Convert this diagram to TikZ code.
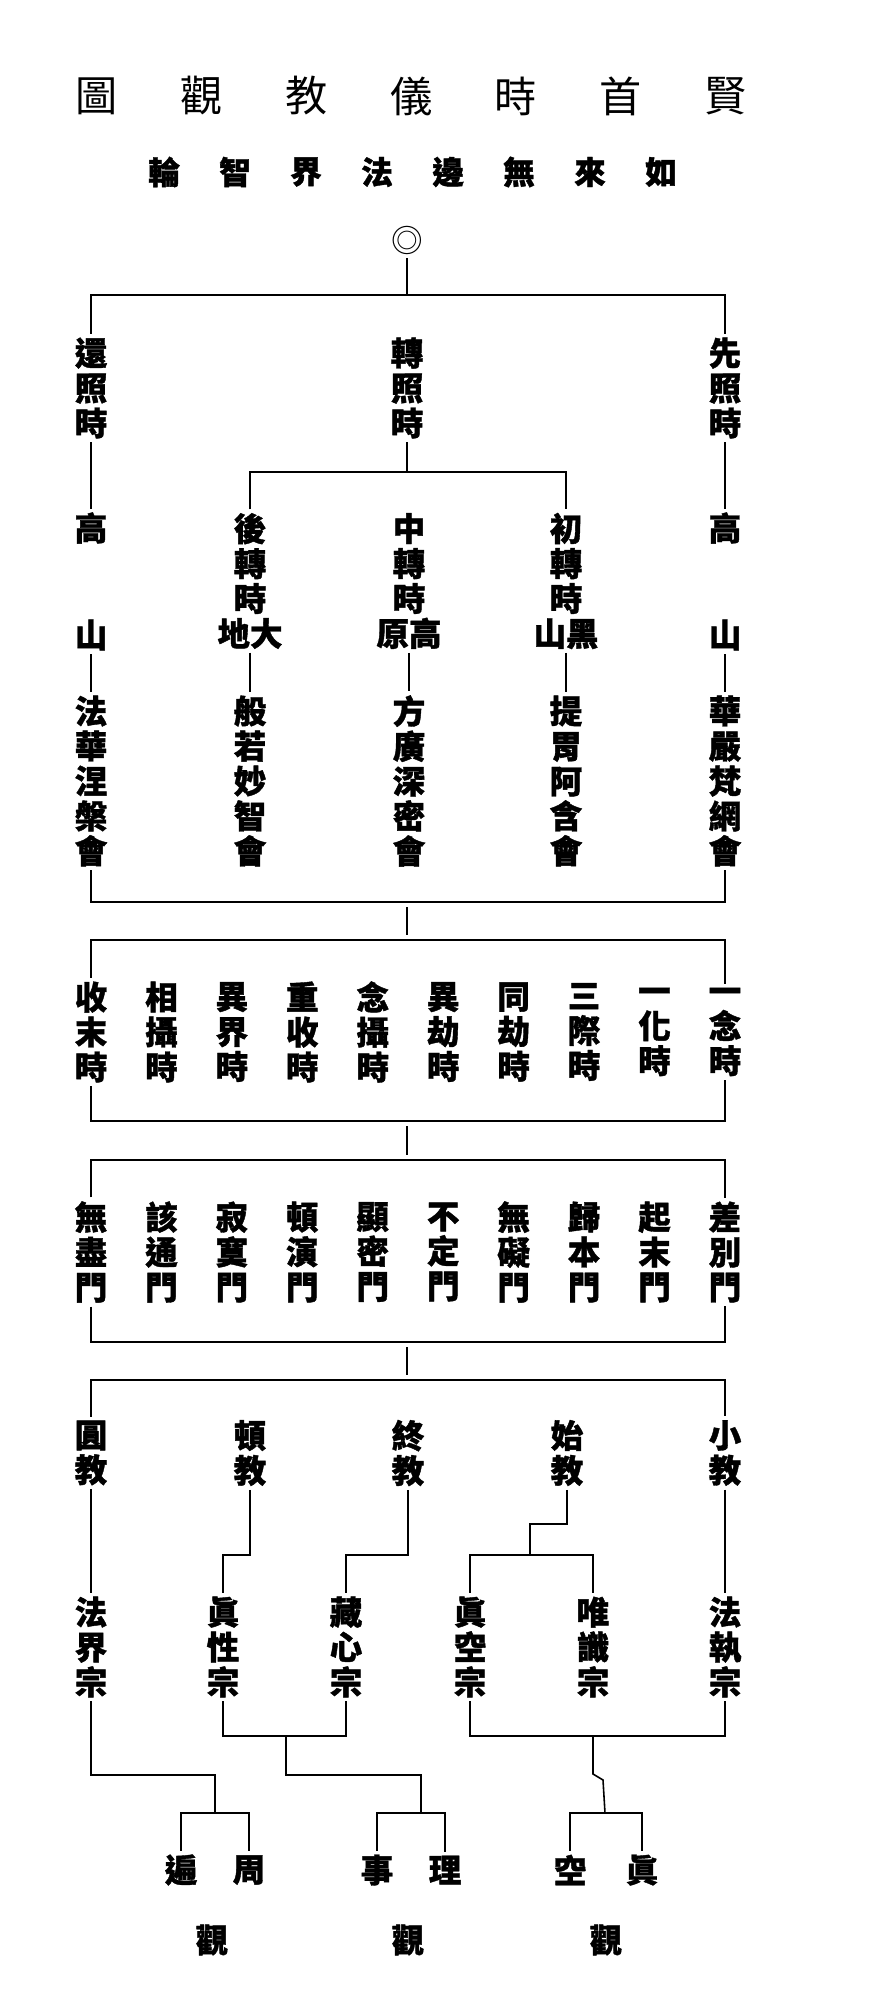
\documentclass[tikz,border=0pt]{standalone}
\usepackage{fontspec}
\newfontfamily\tcfont{Noto Sans CJK TC}[BoldFeatures={FakeBold=1.2}]
\usetikzlibrary{calc}

\begin{document}
\begin{tikzpicture}[x=0.02cm,y=-0.02cm,
        every node/.style={inner sep=2pt},
        ttl/.style={font=\tcfont\fontsize{24pt}{26pt}\selectfont},
        sub/.style={font=\tcfont\bfseries\fontsize{18pt}{20pt}\selectfont},
        col/.style={font=\tcfont\bfseries\fontsize{18.5pt}{19.9pt}\selectfont,align=center},
        ln/.style={line width=0.9pt},
        gap/.style={ln,shorten <=3pt,shorten >=3pt}
    ]
    \useasboundingbox (0,0) rectangle (873,2014);

    \foreach \c [count=\i from 0] in {圖,觀,教,儀,時,首,賢}
        \node[ttl] (title\i) at (97+104.7*\i,96) {\c};
    \foreach \c [count=\i from 0] in {輪,智,界,法,邊,無,來,如}
        \node[sub] (sub\i) at (164+71*\i,172) {\c};
    \node[font=\tcfont\fontsize{18pt}{18pt}\selectfont] (root) at (407,240) {◎};

    % levels of the horizontal bars
    \coordinate (lvA) at (0,295);
    \coordinate (lvB) at (0,472);
    \coordinate (lvC) at (0,902);
    \coordinate (lvD) at (0,940);
    \coordinate (lvE) at (0,1121);
    \coordinate (lvF) at (0,1160);
    \coordinate (lvG) at (0,1342);
    \coordinate (lvH) at (0,1380);
    \coordinate (lvI) at (0,1555);
    \coordinate (lvK) at (0,1775);
    \coordinate (lvL) at (0,1813);
    \coordinate (lvM) at (0,1736);

    \node[col] (huan) at (91,388) {還\\照\\時};
    \node[col] (zhuan) at (407,388) {轉\\照\\時};
    \node[col] (xian) at (725,388) {先\\照\\時};
    \node[col] (gaoL) at (91,528) {高};
    \node[col] (shanL) at (91,635) {山};
    \node[col] (gaoR) at (725,528) {高};
    \node[col] (shanR) at (725,635) {山};
    \node[col] (hou) at (250,581) {後\\轉\\時\\地大};
    \node[col] (zhong) at (409,581) {中\\轉\\時\\原高};
    \node[col] (chu) at (566,581) {初\\轉\\時\\山黑};

    \node[col] (fahua) at (91,781) {法\\華\\涅\\槃\\會};
    \node[col] (bore) at (250,781) {般\\若\\妙\\智\\會};
    \node[col] (fangguang) at (409,781) {方\\廣\\深\\密\\會};
    \node[col] (tiwei) at (566,781) {提\\胃\\阿\\含\\會};
    \node[col] (huayan) at (725,781) {華\\嚴\\梵\\網\\會};

    \foreach \a/\b [count=\i from 0] in {收/末,相/攝,異/界,重/收,念/攝,異/劫,同/劫,三/際,一/化,一/念}
        \node[col] (shi\i) at (91+70.44*\i,1032) {\a\\\b\\時};
    \foreach \a/\b [count=\i from 0] in {無/盡,該/通,寂/寞,頓/演,顯/密,不/定,無/礙,歸/本,起/末,差/別}
        \node[col] (men\i) at (91+70.44*\i,1252) {\a\\\b\\門};

    \node[col] (yuan) at (91,1453) {圓\\教};
    \node[col] (dun) at (250,1453) {頓\\教};
    \node[col] (zhong2) at (408,1453) {終\\教};
    \node[col] (shijiao) at (567,1453) {始\\教};
    \node[col] (xiao) at (725,1453) {小\\教};

    \node[col] (fajie) at (91,1647) {法\\界\\宗};
    \node[col] (zhenxing) at (223,1647) {眞\\性\\宗};
    \node[col] (zangxin) at (346,1647) {藏\\心\\宗};
    \node[col] (zhenkong) at (470,1647) {眞\\空\\宗};
    \node[col] (weishi) at (593,1647) {唯\\識\\宗};
    \node[col] (fazhi) at (725,1647) {法\\執\\宗};

    \node[col] (bian) at (181,1870) {遍};
    \node[col] (zhou) at (249,1870) {周};
    \node[col] (shi) at (377,1870) {事};
    \node[col] (li) at (445,1870) {理};
    \node[col] (kong) at (570,1870) {空};
    \node[col] (zhen) at (642,1870) {眞};
    \node[col] (guan1) at (212,1940) {觀};
    \node[col] (guan2) at (408,1940) {觀};
    \node[col] (guan3) at (606,1940) {觀};

    \coordinate (pA) at (215,1813);
    \coordinate (mB) at (286,1736);
    \coordinate (pB) at (421,1813);
    \coordinate (mC) at (593,1736);
    \coordinate (pC) at (605,1813);
    \coordinate (jog) at (530,1524);

    \draw[ln] (root) -- (root |- lvA);
    \draw[ln] (huan) -- (huan |- lvA) -- (xian |- lvA) -- (xian);
    \draw[ln] (huan) -- (gaoL);
    \draw[ln] (xian) -- (gaoR);
    \draw[ln] (zhuan) -- (zhuan |- lvB);
    \draw[ln] (hou) -- (hou |- lvB) -- (chu |- lvB) -- (chu);

    \draw[ln] (shanL) -- (fahua);
    \draw[ln] (hou) -- (bore);
    \draw[ln] (zhong) -- (fangguang);
    \draw[ln] (chu) -- (tiwei);
    \draw[ln] (shanR) -- (huayan);

    \draw[ln] (fahua) -- (fahua |- lvC) -- (huayan |- lvC) -- (huayan);
    \draw[gap] (root |- lvC) -- (root |- lvD);
    \draw[ln] (shi0) -- (shi0 |- lvD) -- (shi9 |- lvD) -- (shi9);
    \draw[ln] (shi0) -- (shi0 |- lvE) -- (shi9 |- lvE) -- (shi9);
    \draw[gap] (root |- lvE) -- (root |- lvF);
    \draw[ln] (men0) -- (men0 |- lvF) -- (men9 |- lvF) -- (men9);
    \draw[ln] (men0) -- (men0 |- lvG) -- (men9 |- lvG) -- (men9);
    \draw[gap] (root |- lvG) -- (root |- lvH);
    \draw[ln] (yuan) -- (yuan |- lvH) -- (xiao |- lvH) -- (xiao);

    \draw[ln] (yuan) -- (fajie);
    \draw[ln] (xiao) -- (fazhi);
    \draw[ln] (dun) -- (dun |- lvI) -| (zhenxing);
    \draw[ln] (zhong2) -- (zhong2 |- lvI) -| (zangxin);
    \draw[ln] (shijiao) |- (jog) -- (jog |- lvI);
    \draw[ln] (zhenkong) -- (zhenkong |- lvI) -- (weishi |- lvI) -- (weishi);

    \draw[ln] (fajie) -- (fajie |- lvK) -| (pA);
    \draw[ln] (bian) -- (bian |- lvL) -- (zhou |- lvL) -- (zhou);
    \draw[ln] (zhenxing) -- (zhenxing |- lvM) -- (zangxin |- lvM) -- (zangxin);
    \draw[ln] (mB) -- (mB |- lvK) -| (pB);
    \draw[ln] (shi) -- (shi |- lvL) -- (li |- lvL) -- (li);
    \draw[ln] (zhenkong) -- (zhenkong |- lvM) -- (fazhi |- lvM) -- (fazhi);
    \draw[ln] (mC) -- ++(0,38) -- ++(10,6) -- (pC);
    \draw[ln] (kong) -- (kong |- lvL) -- (zhen |- lvL) -- (zhen);
\end{tikzpicture}
\end{document}
